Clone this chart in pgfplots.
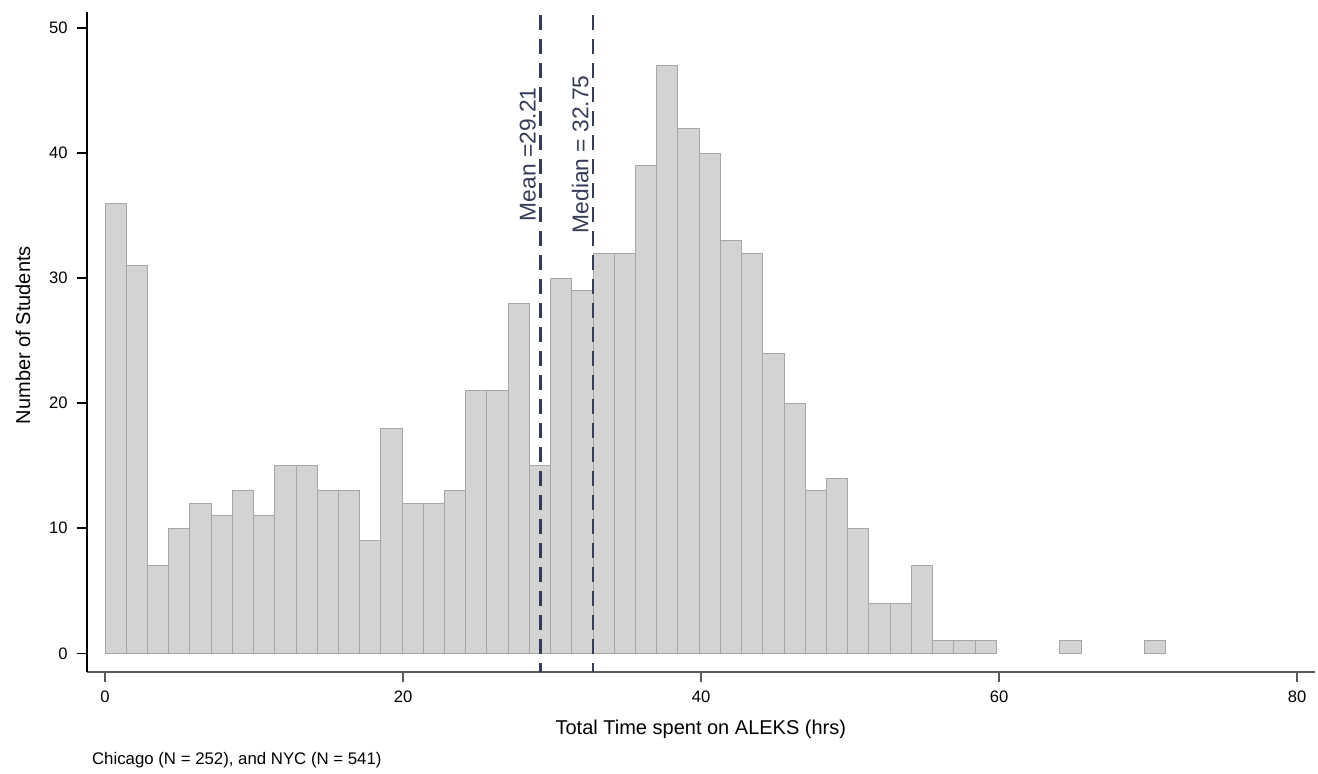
\documentclass[border=0pt]{standalone}
\usepackage{fontspec}
\setmainfont{Liberation Sans}
\usepackage{pgfplots}
\pgfplotsset{compat=1.18}

\definecolor{barfill}{HTML}{D3D3D3}
\definecolor{baredge}{HTML}{A6A6A6}
\definecolor{refline}{HTML}{363B58}
\definecolor{xaxisgray}{HTML}{5A5A5A}

\begin{document}
\begin{tikzpicture}
% page = 1318 x 773 px at 0.5pt per px
\path[use as bounding box] (0,0) rectangle (659pt,386.5pt);

\begin{axis}[
    at={(43.35pt,50.65pt)}, anchor=south west,
    scale only axis,
    width=614.15pt, height=330pt,
    xmin=-1.23, xmax=81.2,
    ymin=-1.47, ymax=51.3,
    axis x line*=bottom, axis y line*=left,
    x axis line style={xaxisgray, line width=1.1pt},
    y axis line style={black, line width=0.9pt},
    xtick={0,20,40,60,80},
    ytick={0,10,20,30,40,50},
    tick align=outside,
    major tick length=5pt,
    x tick style={xaxisgray, line width=0.8pt},
    y tick style={black, line width=0.8pt},
    minor tick num=0,
    /pgf/number format/assume math mode=true,
    tick label style={font=\fontsize{8.3}{10}\selectfont, text=black},
    xticklabel style={yshift=-1pt},
    yticklabel style={xshift=-1pt},
    xlabel={Total Time spent on ALEKS (hrs)},
    ylabel={Number of Students},
    label style={font=\fontsize{11.4}{13}\selectfont},
    every axis x label/.style={at={(axis description cs:0.5,-0.0959)}, anchor=base},
    every axis y label/.style={at={(axis description cs:-0.0519,0.51)}, anchor=center, rotate=90},
    clip=false,
]
% histogram, bin width 1.424 starting at 0 (bin centres)
\addplot[ybar, bar width=1.424, bar shift=0pt, fill=barfill, draw=baredge, line width=0.5pt]
coordinates {
(0.712,36) (2.136,31) (3.560,7) (4.984,10) (6.408,12) (7.832,11)
(9.256,13) (10.680,11) (12.104,15) (13.528,15) (14.952,13) (16.376,13)
(17.800,9) (19.224,18) (20.648,12) (22.072,12) (23.496,13) (24.920,21)
(26.344,21) (27.768,28) (29.192,15) (30.616,30) (32.040,29) (33.464,32)
(34.888,32) (36.312,39) (37.736,47) (39.160,42) (40.584,40) (42.008,33)
(43.432,32) (44.856,24) (46.280,20) (47.704,13) (49.128,14) (50.552,10)
(51.976,4) (53.400,4) (54.824,7) (56.248,1) (57.672,1) (59.096,1)
(64.792,1) (70.488,1)
};

% mean and median reference lines
\addplot[refline, line width=1.4pt, dash pattern=on 7.5pt off 4.5pt] coordinates {(29.21,51.0) (29.21,-1.47)};
\addplot[refline, line width=1.4pt, dash pattern=on 7.5pt off 4.5pt] coordinates {(32.75,51.0) (32.75,-1.47)};

\node[rotate=90, anchor=south, inner sep=2pt, text=refline, font=\fontsize{11.4}{13}\selectfont]
    at (axis cs:29.21,39.9) {Mean =29.21};
\node[rotate=90, anchor=south, inner sep=2pt, text=refline, font=\fontsize{11.4}{13}\selectfont]
    at (axis cs:32.75,39.9) {Median = 32.75};
\end{axis}

\node[anchor=base west, inner sep=0pt, font=\fontsize{8.4}{10}\selectfont]
    at (45.85pt,4.5pt) {Chicago (N = 252), and NYC (N = 541)};
\end{tikzpicture}
\end{document}
